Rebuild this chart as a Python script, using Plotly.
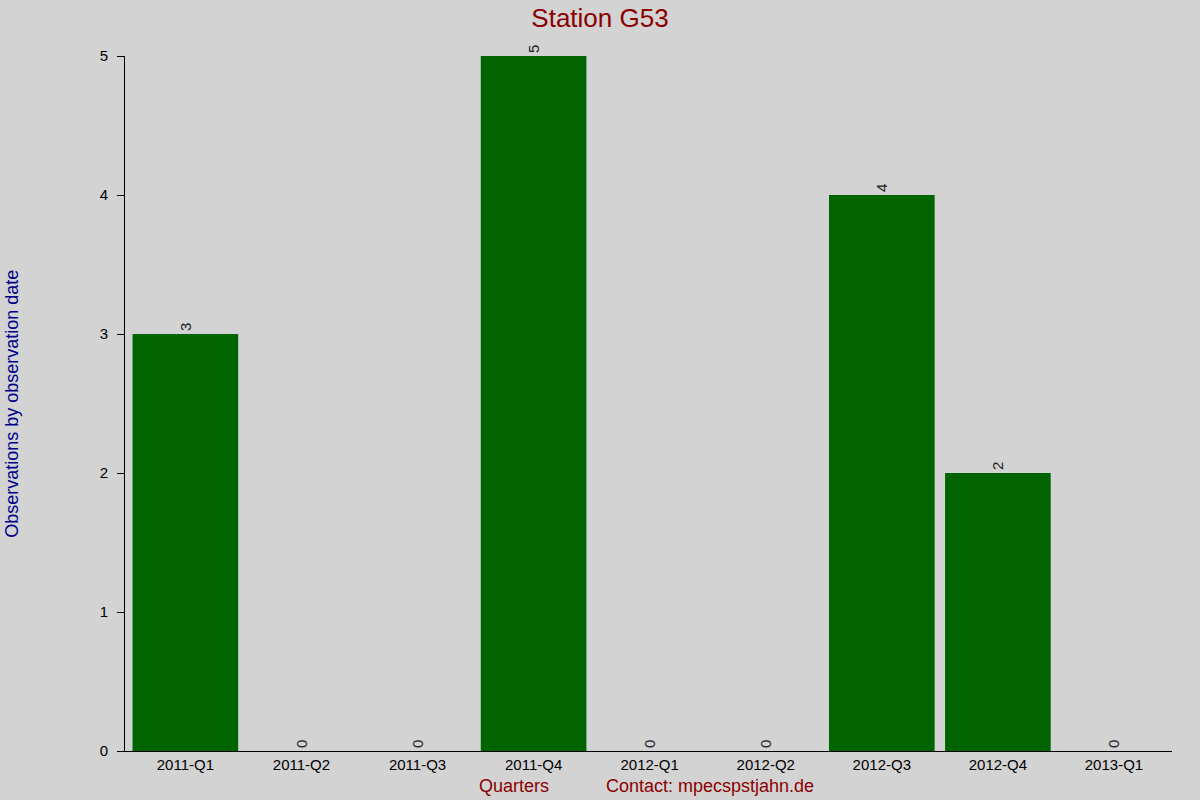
import plotly.graph_objects as go

# quarterly observation counts for station G53
quarters = ["2011-Q1", "2011-Q2", "2011-Q3", "2011-Q4", "2012-Q1",
            "2012-Q2", "2012-Q3", "2012-Q4", "2013-Q1"]
counts = [3, 0, 0, 5, 0, 0, 4, 2, 0]

fig = go.Figure()
fig.add_trace(go.Bar(
    x=list(range(len(quarters))), y=counts,
    marker=dict(color="#006400", line=dict(width=0)),
    text=[str(c) for c in counts],
    textposition="outside", textangle=-90, cliponaxis=False,
    textfont=dict(family="Liberation Sans, Arial", size=15, color="#222222"),
))

fig.update_layout(
    width=1200, height=800,
    paper_bgcolor="#d3d3d3", plot_bgcolor="#d3d3d3",
    margin=dict(l=125, r=28, t=56, b=49),
    bargap=0.09, showlegend=False,
    font=dict(family="Liberation Sans, Arial", size=15, color="black"),
    title=dict(text="Station G53", x=0.5, xanchor="center", y=0.978, yanchor="middle",
               font=dict(size=26, color="#8b0000")),
    uniformtext=dict(minsize=12, mode="show"),
)
fig.update_xaxes(
    tickmode="array", tickvals=list(range(len(quarters))), ticktext=quarters,
    range=[-0.52, 8.5], showgrid=False, zeroline=False,
    showline=True, linecolor="black", linewidth=1, ticks="",
    tickfont=dict(size=15),
)
fig.update_yaxes(
    range=[0, 5], dtick=1, showgrid=False, zeroline=False,
    showline=True, linecolor="black", linewidth=1,
    ticks="outside", ticklen=7, tickcolor="black",
    ticklabelstandoff=6, tickfont=dict(size=15),
)
fig.add_annotation(text="Observations by observation date", textangle=-90,
                   xref="paper", yref="paper", x=-0.12, y=0.5, showarrow=False,
                   font=dict(size=18, color="#00008b"))
fig.add_annotation(text="Quarters", xref="paper", yref="paper",
                   x=0.372, y=-0.05, yanchor="middle", showarrow=False,
                   font=dict(size=18, color="#8b0000"))
fig.add_annotation(text="Contact: mpecspstjahn.de", xref="paper", yref="paper",
                   x=0.559, y=-0.05, yanchor="middle", showarrow=False,
                   font=dict(size=18, color="#8b0000"))

fig.write_html("out.html", config={"displayModeBar": False},
               post_script="document.body.style.margin='0';")
